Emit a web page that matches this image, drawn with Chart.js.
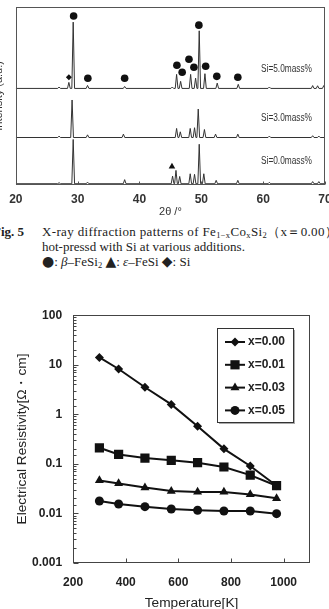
<!DOCTYPE html>
<html>
<head>
<meta charset="utf-8">
<script src="https://cdn.jsdelivr.net/npm/chart.js@4.4.0/dist/chart.umd.min.js"></script>
<style>
  body { margin: 0; width: 329px; height: 609px; overflow: hidden; background: #fff; position: relative; }
  canvas { position: absolute; }
  .cap { position: absolute; font-family: "Liberation Serif", "DejaVu Serif", serif; font-size: 13px; line-height: 15px; color: #222; white-space: nowrap; }
  .cap sub { font-size: 8.5px; line-height: 0; vertical-align: -2px; }
  .cap .sym { font-size: 14px; font-family: "DejaVu Sans", sans-serif; }
  .si { position: absolute; font-family: "Liberation Sans", Arial, sans-serif; font-size: 10px; line-height: 12px; color: #333; transform: scaleX(0.83); transform-origin: 0 0; }
</style>
</head>
<body>
<canvas id="xrd" width="347" height="219" style="left:-8px;top:0"></canvas>
<div class="si" style="left:261px;top:63px">Si=5.0mass%</div>
<div class="si" style="left:261px;top:112px">Si=3.0mass%</div>
<div class="si" style="left:261px;top:155px">Si=0.0mass%</div>

<div class="cap" style="left:-7px;top:224px"><b>Fig. 5</b></div>
<div class="cap" style="left:42px;top:224px;letter-spacing:0.35px">X-ray diffraction patterns of Fe<sub>1−x</sub>Co<sub>x</sub>Si<sub>2</sub>（x＝0.00）</div>
<div class="cap" style="left:42px;top:239px">hot-pressd with Si at various additions.</div>
<div class="cap" style="left:42px;top:254px"><span class="sym">●</span>: <i>β</i>–FeSi<sub>2</sub> <span class="sym">▲</span>: <i>ε</i>–FeSi <span class="sym">◆</span>: Si</div>

<canvas id="rho" width="329" height="314" style="left:0;top:297px"></canvas>

<script>
// ---- Fig. 5: XRD patterns, peak positions (2θ) and heights above baseline ----
const xrdBase = [54.2, 26.6, 0.6];   // Si=5.0, 3.0, 0.0 mass%

const peaks50 = [27.0, 28.58, 29.28, 31.6, 37.6, 45.3, 46.0, 46.65, 48.27, 49.07, 49.66, 50.58, 52.57, 55.97, 61.0, 68.0, 68.8, 69.8];
const height50 = [0.8, 3.4, 37.3, 1.7, 1.1, 0.8, 7.9, 4.0, 7.9, 5.8, 32.4, 8.3, 3.0, 2.3, 0.8, 1.6, 1.5, 1.6];

const peaks30 = [27.0, 29.1, 31.6, 37.4, 46.0, 46.6, 48.2, 48.9, 49.5, 50.5, 52.3, 55.9, 61.0, 68.0, 69.0];
const height30 = [0.8, 21.1, 1.5, 1.9, 5.1, 3.2, 5.1, 5.5, 16.0, 4.5, 1.9, 1.9, 0.8, 1.0, 0.8];

const peaks00 = [27.0, 29.28, 31.6, 37.6, 45.35, 45.9, 46.5, 48.2, 48.9, 49.66, 50.4, 52.4, 55.9, 61.0, 68.0, 69.0];
const height00 = [0.6, 24.9, 0.9, 2.3, 4.3, 7.5, 4.1, 5.6, 5.3, 22.2, 5.6, 1.9, 1.9, 0.8, 1.2, 1.2];

// phase markers
const betaX = [29.35, 31.65, 37.6, 46.05, 46.9, 48.0, 48.8, 49.6, 50.7, 52.5, 55.9];
const betaY = [94.9, 59.9, 59.9, 67.2, 63.3, 70.6, 66.1, 89.8, 66.7, 61.0, 60.5];
const epsX = [45.25];
const epsY = [10.2];
const siX = [28.58];
const siY = [60.5];

// ---- Electrical resistivity vs temperature ----
const temps = [300, 373, 473, 573, 673, 773, 873, 973];
const rho000 = [14, 8.2, 3.5, 1.58, 0.57, 0.2, 0.09, 0.036];
const rho001 = [0.21, 0.154, 0.13, 0.117, 0.105, 0.086, 0.059, 0.036];
const rho003 = [0.046, 0.040, 0.033, 0.028, 0.027, 0.027, 0.024, 0.020];
const rho005 = [0.0177, 0.0154, 0.0136, 0.0122, 0.0115, 0.0111, 0.0111, 0.0098];
const seriesNames = ['x=0.00', 'x=0.01', 'x=0.03', 'x=0.05'];
const tempTicks = [200, 400, 600, 800, 1000];

const SANS = '"Liberation Sans", Arial, sans-serif';

// line built from peak list: flat baseline with narrow spikes
function trace(base, pos, h) {
  const pts = [{x: 20, y: base}];
  pos.forEach((p, i) => {
    pts.push({x: p - 0.22, y: base}, {x: p, y: base + h[i]}, {x: p + 0.22, y: base});
  });
  pts.push({x: 70, y: base});
  return pts;
}
const pairs = (xs, ys) => xs.map((x, i) => ({x: x, y: ys[i]}));

// frame + inward ticks
const frame = {
  id: 'frame',
  afterDraw(chart, args, opts) {
    const {ctx, chartArea: a, scales} = chart;
    ctx.save();
    ctx.strokeStyle = opts.color;
    ctx.lineWidth = 1;
    const l = Math.round(a.left) + 0.5, t = Math.round(a.top) + 0.5;
    const r = Math.round(a.right) - 0.5, b = Math.round(a.bottom) - 0.5;
    ctx.strokeRect(l, t, r - l, b - t);
    ctx.beginPath();
    scales.x.ticks.forEach(tk => {
      const px = Math.round(scales.x.getPixelForValue(tk.value)) + 0.5;
      ctx.moveTo(px, b); ctx.lineTo(px, b - opts.xTick);
    });
    if (opts.yTicks) {
      scales.y.ticks.forEach(tk => {
        const py = Math.round(scales.y.getPixelForValue(tk.value)) + 0.5;
        const lg = Math.log10(tk.value);
        const len = Math.abs(lg - Math.round(lg)) < 1e-6 ? 5 : 3;
        ctx.moveTo(l, py); ctx.lineTo(l + len, py);
      });
    }
    ctx.stroke();
    ctx.restore();
  }
};

new Chart(document.getElementById('xrd'), {
  type: 'line',
  data: {
    datasets: [
      {data: trace(xrdBase[0], peaks50, height50)},
      {data: trace(xrdBase[1], peaks30, height30)},
      {data: trace(xrdBase[2], peaks00, height00)},
      {type: 'scatter', data: pairs(betaX, betaY), pointStyle: 'circle', pointRadius: 3.8, backgroundColor: '#111', borderWidth: 0},
      {type: 'scatter', data: pairs(epsX, epsY), pointStyle: 'triangle', pointRadius: 3.8, backgroundColor: '#111', borderWidth: 0},
      {type: 'scatter', data: pairs(siX, siY), pointStyle: 'rectRot', pointRadius: 3, backgroundColor: '#111', borderWidth: 0}
    ]
  },
  options: {
    responsive: false,
    animation: false,
    layout: {padding: {top: 7, right: 0, left: 0, bottom: 0}},
    elements: {
      line: {borderColor: '#333', borderWidth: 1, tension: 0},
      point: {radius: 0}
    },
    plugins: {legend: {display: false}, tooltip: {enabled: false}, frame: {color: '#555', xTick: 3}},
    scales: {
      x: {
        type: 'linear', min: 20, max: 70,
        grid: {display: false, drawTicks: false},
        border: {display: false},
        ticks: {stepSize: 10, padding: 7.3, color: '#333', font: {family: SANS, size: 12, weight: 'bold'}},
        title: {display: true, text: '2θ /°', color: '#333', padding: {top: -8, bottom: 0}, font: {family: SANS, size: 11}}
      },
      y: {
        min: 0, max: 100,
        grid: {display: false, drawTicks: false},
        border: {display: false},
        ticks: {display: false},
        title: {display: true, text: 'Intensity (a.u.)', color: '#333', padding: {top: 0, bottom: 10.6}, font: {family: SANS, size: 11}}
      }
    }
  },
  plugins: [frame]
});

// legend box drawn inside the plot, top right
const boxLegend = {
  id: 'boxLegend',
  afterDatasetsDraw(chart) {
    const {ctx, chartArea: a} = chart;
    const left = Math.round(a.right) - 93, top = Math.round(a.top) + 13, w = 76, h = 94;
    ctx.save();
    ctx.fillStyle = '#aaa';
    ctx.fillRect(left + 2, top + 2, w, h);
    ctx.fillStyle = '#fff';
    ctx.fillRect(left, top, w, h);
    ctx.strokeStyle = '#333';
    ctx.lineWidth = 1;
    ctx.strokeRect(left + 0.5, top + 0.5, w, h);
    chart.data.datasets.forEach((ds, i) => {
      const y = top + 14 + i * 22.8;
      ctx.strokeStyle = '#111';
      ctx.lineWidth = 2;
      ctx.beginPath();
      ctx.moveTo(left + 8, y);
      ctx.lineTo(left + 28, y);
      ctx.stroke();
      ctx.fillStyle = '#111';
      Chart.helpers.drawPoint(ctx, {pointStyle: ds.pointStyle, radius: ds.pointRadius, borderWidth: 0, rotation: 0}, left + 18, y);
      ctx.fillStyle = '#222';
      ctx.font = 'bold 12px ' + SANS;
      ctx.textBaseline = 'middle';
      ctx.fillText(ds.label, left + 31, y);
    });
    ctx.restore();
  }
};

const rhoSets = [rho000, rho001, rho003, rho005];
const styles = [['rectRot', 4.5], ['rect', 6.5], ['triangle', 5.2], ['circle', 4.5]];

new Chart(document.getElementById('rho'), {
  type: 'line',
  data: {
    datasets: rhoSets.map((vals, k) => ({
      label: seriesNames[k],
      data: temps.map((t, i) => ({x: t, y: vals[i]})),
      pointStyle: styles[k][0],
      pointRadius: styles[k][1],
      borderColor: '#111',
      backgroundColor: '#111',
      borderWidth: 2,
      pointBorderWidth: 0
    }))
  },
  options: {
    responsive: false,
    animation: false,
    layout: {padding: {top: 15, right: 19, left: 0, bottom: 0}},
    elements: {line: {tension: 0}},
    plugins: {legend: {display: false}, tooltip: {enabled: false}, frame: {color: '#444', xTick: 4, yTicks: true}},
    scales: {
      x: {
        type: 'linear', min: 200, max: 1100,
        afterBuildTicks: s => { s.ticks = tempTicks.map(v => ({value: v})); },
        grid: {display: false, drawTicks: false},
        border: {display: false},
        ticks: {padding: 12.8, color: '#222', font: {family: SANS, size: 12, weight: 'bold'}, callback: v => String(v)},
        title: {display: true, text: 'Temperature[K]', color: '#222', padding: {top: -8.2, bottom: 0}, font: {family: SANS, size: 13.7}}
      },
      y: {
        type: 'logarithmic', min: 0.001, max: 100,
        grid: {display: false, drawTicks: false},
        border: {display: false},
        ticks: {
          padding: 11, color: '#222', font: {family: SANS, size: 12, weight: 'bold'}, autoSkip: false,
          callback: v => {
            const lg = Math.log10(v);
            return Math.abs(lg - Math.round(lg)) < 1e-6 ? String(Number(v.toPrecision(1))) : '';
          }
        },
        title: {display: true, text: 'Electrical Resistivity[Ω・cm]', color: '#222', padding: {top: 13.8, bottom: -9.2}, font: {family: SANS, size: 13.7}}
      }
    }
  },
  plugins: [frame, boxLegend]
});
</script>
</body>
</html>
